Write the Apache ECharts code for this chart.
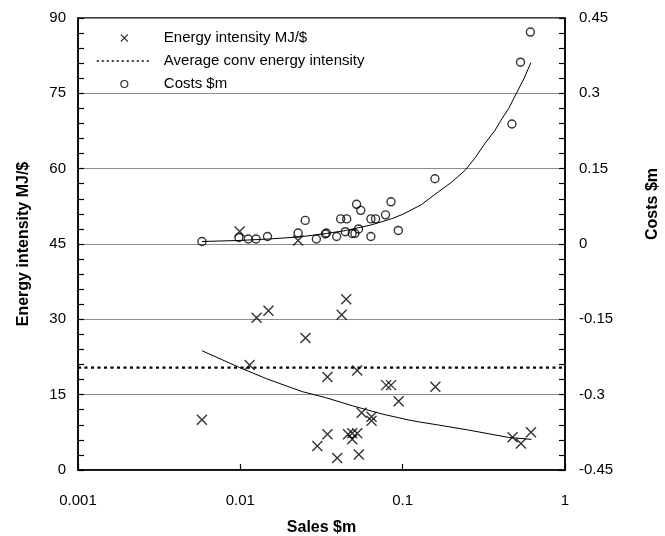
<!DOCTYPE html>
<html>
<head>
<meta charset="utf-8">
<script src="https://cdn.jsdelivr.net/npm/echarts@6/dist/echarts.min.js"></script>
<style>
  html, body { margin: 0; padding: 0; background: #fff; }
  #chart { width: 665px; height: 536px; }
</style>
</head>
<body>
<div id="chart"></div>
<script>
// values
const intensitySales = [0.0058, 0.0099, 0.0114, 0.0126, 0.0149, 0.0227, 0.0252, 0.0298, 0.0344, 0.0344,
  0.0395, 0.0421, 0.0449, 0.0461, 0.0489, 0.0489, 0.0525, 0.0525, 0.0537, 0.0559,
  0.0643, 0.0643, 0.0791, 0.0848, 0.0944, 0.159, 0.475, 0.535, 0.617];
const intensityValues = [10.0, 47.5, 20.9, 30.3, 31.7, 45.7, 26.3, 4.8, 18.5, 7.1,
  2.4, 30.9, 34.0, 7.1, 7.3, 6.1, 19.8, 7.3, 3.1, 11.4,
  10.6, 9.8, 16.9, 16.9, 13.7, 16.6, 6.5, 5.3, 7.5];

const costSales = [0.0058, 0.0098, 0.0112, 0.0125, 0.0147, 0.0227, 0.0251, 0.0294, 0.0339, 0.0334,
  0.0392, 0.0415, 0.0452, 0.0443, 0.0489, 0.0508, 0.0535, 0.0520, 0.0552, 0.0637,
  0.0681, 0.0637, 0.0784, 0.0847, 0.0940, 0.158, 0.471, 0.532, 0.612];
const costValues = [0.005, 0.013, 0.010, 0.010, 0.015, 0.022, 0.047, 0.010, 0.022, 0.020,
  0.015, 0.050, 0.050, 0.0245, 0.021, 0.021, 0.030, 0.079, 0.067, 0.050,
  0.050, 0.015, 0.058, 0.084, 0.027, 0.130, 0.239, 0.362, 0.422];

const averageIntensity = 20.4;
const averageSpan = [0.001, 1];

// trend lines as traced on the picture
const intensityFitSales = [0.0058, 0.0099, 0.0147, 0.0241, 0.0336, 0.0489, 0.0746, 0.109, 0.125, 0.166, 0.254, 0.447, 0.621];
const intensityFitValues = [23.75, 20.4, 18.1, 15.6, 14.4, 12.8, 11.15, 9.96, 9.6, 8.96, 7.96, 6.5, 6.1];
const costFitSales = [0.0058, 0.0098, 0.015, 0.023, 0.034, 0.045, 0.064, 0.085, 0.1, 0.13, 0.166, 0.2, 0.243,
  0.28, 0.321, 0.37, 0.41, 0.45, 0.502, 0.56, 0.616];
const costFitValues = [0.005, 0.007, 0.01, 0.014, 0.021, 0.027, 0.038, 0.05, 0.059, 0.078, 0.104, 0.123, 0.147,
  0.172, 0.20, 0.226, 0.25, 0.27, 0.30, 0.33, 0.361];

const xTicks = ['0.001', '0.01', '0.1', '1'];

const pairs = (xs, ys) => xs.map((x, i) => [x, ys[i]]);

const font = 'Liberation Sans, Arial, sans-serif';
const crossPath = 'path://M0,0L10,10M10,0L0,10';
const clear = 'rgba(0,0,0,0)';

const chart = echarts.init(document.getElementById('chart'), null, { renderer: 'canvas' });

chart.setOption({
  animation: false,
  backgroundColor: '#fff',
  textStyle: { fontFamily: font, color: '#000' },
  grid: {
    left: 78, right: 100, top: 18, bottom: 66,
    outerBoundsMode: 'none',
    show: true, borderColor: '#000', borderWidth: 1.5
  },
  legend: {
    orient: 'vertical',
    left: 96, top: 29,
    padding: 0,
    itemWidth: 55, itemHeight: 7, itemGap: 5,
    symbolKeepAspect: true,
    selectedMode: false,
    textStyle: { fontFamily: font, fontSize: 15, color: '#000', lineHeight: 18, padding: [0, 0, 0, 7] },
    data: [
      { name: 'Energy intensity MJ/$', itemStyle: { borderWidth: 1.1 } },
      {
        name: 'Average conv energy intensity',
        itemStyle: { color: clear, borderColor: clear, borderWidth: 0 },
        lineStyle: { width: 1.6, type: [2, 3] }
      },
      { name: 'Costs $m', itemStyle: { borderWidth: 1.2 } }
    ]
  },
  xAxis: {
    type: 'log', logBase: 10, min: 0.001, max: 1,
    axisLine: { lineStyle: { color: '#000', width: 1.5 } },
    axisTick: { inside: true, length: 6, lineStyle: { color: '#000', width: 1.2 } },
    splitLine: { show: false },
    axisLabel: {
      fontSize: 15, color: '#000', margin: 23,
      formatter: v => xTicks.find(t => Math.abs(+t - v) < v * 1e-6) || ''
    },
    name: 'Sales $m', nameLocation: 'middle', nameGap: 50,
    nameTextStyle: { fontSize: 16, fontWeight: 'bold', color: '#000', fontFamily: font }
  },
  yAxis: [
    {
      type: 'value', min: 0, max: 90, interval: 15,
      axisLine: { show: true, lineStyle: { color: '#000', width: 1.5 } },
      axisTick: { show: true, inside: true, length: 6, lineStyle: { color: '#000', width: 1.2 } },
      minorTick: { show: true, splitNumber: 5, length: 6, lineStyle: { color: '#000', width: 1.2 } },
      splitLine: { show: true, lineStyle: { color: '#8c8c8c', width: 1.2 } },
      axisLabel: { fontSize: 15, color: '#000', margin: 12 },
      name: 'Energy intensity MJ/$', nameLocation: 'middle', nameGap: 46, nameRotate: 90,
      nameTextStyle: { fontSize: 16, fontWeight: 'bold', color: '#000', fontFamily: font }
    },
    {
      type: 'value', min: -0.45, max: 0.45, interval: 0.15,
      position: 'right',
      axisLine: { show: true, lineStyle: { color: '#000', width: 1.5 } },
      axisTick: { show: true, inside: true, length: 6, lineStyle: { color: '#000', width: 1.2 } },
      minorTick: { show: true, splitNumber: 5, length: 6, lineStyle: { color: '#000', width: 1.2 } },
      splitLine: { show: false },
      axisLabel: { fontSize: 15, color: '#000', margin: 14, formatter: v => String(+v.toFixed(2)) }
    }
  ],
  graphic: [{
    type: 'text',
    x: 653, y: 204,
    rotation: Math.PI / 2,
    style: {
      text: 'Costs $m', fill: '#000',
      font: 'bold 16px ' + font,
      align: 'center', verticalAlign: 'middle'
    }
  }],
  series: [
    {
      name: 'Energy intensity MJ/$', type: 'scatter',
      data: pairs(intensitySales, intensityValues),
      symbol: crossPath, symbolSize: 10, symbolKeepAspect: true,
      itemStyle: { color: clear, borderColor: '#000', borderWidth: 1.4 },
      z: 5
    },
    {
      name: 'Average conv energy intensity', type: 'line',
      data: averageSpan.map(x => [x, averageIntensity]),
      symbol: 'none',
      lineStyle: { color: '#000', width: 2.2, type: [3, 3.5] },
      itemStyle: { color: '#000' },
      z: 4
    },
    {
      name: 'Costs $m', type: 'scatter', yAxisIndex: 1,
      data: pairs(costSales, costValues),
      symbol: 'circle', symbolSize: 8,
      itemStyle: { color: clear, borderColor: '#000', borderWidth: 1.4 },
      z: 5
    },
    {
      name: 'intensity fit', type: 'line',
      data: pairs(intensityFitSales, intensityFitValues),
      symbol: 'none', silent: true,
      lineStyle: { color: '#000', width: 1 },
      z: 3
    },
    {
      name: 'cost fit', type: 'line', yAxisIndex: 1,
      data: pairs(costFitSales, costFitValues),
      symbol: 'none', silent: true,
      lineStyle: { color: '#000', width: 1 },
      z: 3
    }
  ]
});
</script>
</body>
</html>
